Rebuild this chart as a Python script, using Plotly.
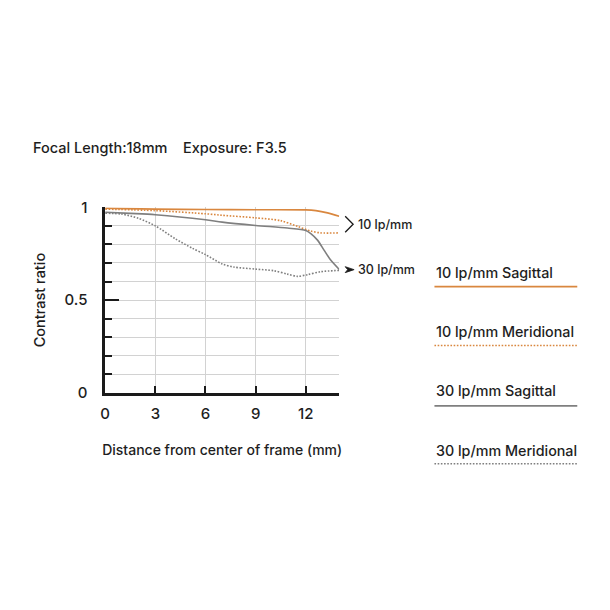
import plotly.graph_objects as go

# MTF data (distance in mm, contrast ratio)
sag10_x = [0, 1, 3, 6, 9, 12, 12.6, 13.3, 14]
sag10_y = [0.995, 0.993, 0.990, 0.988, 0.987, 0.986, 0.982, 0.970, 0.952]

mer10_x = [0, 3, 6, 7, 9, 10.5, 11.5, 12.3, 12.9, 14]
mer10_y = [0.990, 0.982, 0.965, 0.957, 0.943, 0.928, 0.897, 0.872, 0.862, 0.862]

sag30_x = [0, 1.5, 3, 6, 7, 9, 10.9, 12, 12.3, 12.7, 13.1, 13.5, 14]
sag30_y = [0.973, 0.967, 0.960, 0.933, 0.920, 0.902, 0.888, 0.875, 0.858, 0.823, 0.768, 0.714, 0.665]

mer30_x = [0, 1, 2, 3, 4.2, 5.2, 6, 7, 7.7, 9, 10.1, 10.9, 11.5, 12.1, 12.9, 14]
mer30_y = [0.968, 0.963, 0.940, 0.900, 0.830, 0.780, 0.745, 0.695, 0.678, 0.667,
           0.658, 0.640, 0.628, 0.637, 0.653, 0.660]

x_ticks = [0, 3, 6, 9, 12, 14]
x_labels = ['0', '3', '6', '9', '12', '']
y_ticks = [0, 0.5, 1]
y_labels = ['0', '0.5', '1']

legend_names = ['10 lp/mm Sagittal', '10 lp/mm Meridional', '30 lp/mm Sagittal', '30 lp/mm Meridional']

ORANGE = '#D9873F'
GRAY = '#7f7f7f'
DOTS = '1.6px,1.6px'
FONT = 'Inter'
W = H = 610


def px(x):
    return x / W


def py(y):
    # y given in picture pixels, measured from the top
    y = 148 + (y - 153) * 1.03
    return 1 - y / H


series = [
    (sag10_x, sag10_y, ORANGE, 'solid'),
    (mer10_x, mer10_y, ORANGE, DOTS),
    (sag30_x, sag30_y, GRAY, 'solid'),
    (mer30_x, mer30_y, GRAY, DOTS),
]

fig = go.Figure()
for (xs, ys, col, dash), name in zip(series, legend_names):
    fig.add_trace(go.Scatter(
        x=xs, y=ys, name=name, mode='lines',
        line=dict(color=col, width=1.6, dash=dash, shape='spline', smoothing=0.8),
        cliponaxis=False, showlegend=False, hoverinfo='skip'
    ))

fig.update_layout(
    autosize=True,
    margin=dict(l=0, r=0, t=0, b=0),
    paper_bgcolor='white', plot_bgcolor='white',
    font=dict(family=FONT, size=14.5, color='#1e1e1e', weight=500),
    xaxis=dict(
        domain=[px(101), px(337)], range=[0, 14],
        tickvals=x_ticks, ticktext=x_labels,
        ticks='inside', ticklen=7, tickwidth=2, tickcolor='#1a1a1a',
        showline=True, linecolor='#1a1a1a', linewidth=2.5,
        showgrid=True, gridcolor='#d2d2d2', gridwidth=1,
        zeroline=False, ticklabelstandoff=5,
        tickfont=dict(size=15),
        title=dict(text='Distance from center of frame (mm)', standoff=24,
                   font=dict(size=14)),
    ),
    yaxis=dict(
        domain=[py(393), py(207)], range=[0, 1],
        tickvals=y_ticks, ticktext=y_labels,
        ticks='inside', ticklen=14, tickwidth=2, tickcolor='#1a1a1a',
        minor=dict(dtick=0.1, ticks='inside', ticklen=7, tickwidth=2,
                   tickcolor='#1a1a1a', showgrid=True, gridcolor='#d2d2d2'),
        showline=True, linecolor='#1a1a1a', linewidth=2.5,
        showgrid=True, gridcolor='#d2d2d2', gridwidth=1,
        zeroline=False, ticklabelstandoff=12,
        tickfont=dict(size=15),
        title=dict(text='Contrast ratio', standoff=16, font=dict(size=14.5)),
    ),
)

# header
fig.add_annotation(
    x=px(26), y=py(148), xref='paper', yref='paper',
    text='Focal Length:18mm    Exposure: F3.5', showarrow=False,
    xanchor='left', yanchor='middle', font=dict(size=14.5)
)

# frequency markers at right of plot
fig.add_shape(type='path', xref='paper', yref='paper',
              path=f'M {px(343)},{py(216)} L {px(351)},{py(224)} L {px(343)},{py(232)}',
              line=dict(color='#1a1a1a', width=1.3))
fig.add_shape(type='path', xref='paper', yref='paper',
              path=f'M {px(343)},{py(266.5)} L {px(352)},{py(269.5)} L {px(343)},{py(272.5)} L {px(345.5)},{py(269.5)} Z',
              line=dict(color='#1a1a1a', width=0.8), fillcolor='#1a1a1a')
for label, yy in [('10 lp/mm', 224), ('30 lp/mm', 269)]:
    fig.add_annotation(x=px(354), y=py(yy), xref='paper', yref='paper',
                       text=label, showarrow=False, xanchor='left', yanchor='middle',
                       font=dict(size=12.5))

# custom legend
legend_text_y = [272, 331, 391, 451]
legend_line_y = [286.5, 345.5, 406, 464]
for (xs, ys, col, dash), name, ty, ly in zip(series, legend_names, legend_text_y, legend_line_y):
    fig.add_annotation(x=px(433), y=py(ty), xref='paper', yref='paper',
                       text=name, showarrow=False, xanchor='left', yanchor='middle',
                       font=dict(size=14.3))
    fig.add_shape(type='line', xref='paper', yref='paper',
                  x0=px(433), x1=px(577), y0=py(ly), y1=py(ly),
                  line=dict(color=col, width=1.6, dash=dash))

fig.write_html(
    'out.html',
    config=dict(displayModeBar=False, responsive=True),
    default_width='100vw', default_height='100vh',
    post_script="document.body.style.margin='0';"
                "document.body.style.overflow='hidden';"
                "Plotly.Plots.resize(document.getElementById('{plot_id}'));",
)
